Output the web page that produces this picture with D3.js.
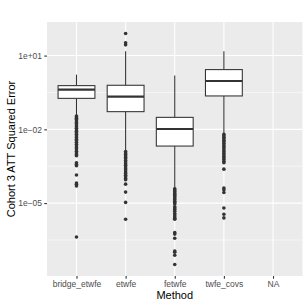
<!DOCTYPE html>
<html>
<head>
<meta charset="utf-8">
<script src="https://cdn.jsdelivr.net/npm/d3@7"></script>
<style>
  body { margin: 0; background: #fff; }
  text { font-family: "Liberation Sans", Arial, Helvetica, sans-serif; }
</style>
</head>
<body>
<svg id="chart" width="307" height="307"></svg>
<script>
// categories on the x axis
var methods = ["bridge_etwfe", "etwfe", "fetwfe", "twfe_covs", "NA"];

// box statistics per method (NA has no data)
var whiskerHigh = [1.68, 15.0, 1.53, 15.0, null];
var q3 = [0.60, 0.62, 0.0307, 2.69, null];
var medians = [0.41, 0.214, 0.0103, 0.93, null];
var q1 = [0.182, 0.0524, 2.09e-3, 0.228, null];
var whiskerLow = [0.037, 1.38e-3, 4.1e-5, 7.1e-3, null];

// outliers
var bridgeOutliers = [3.5e-2, 3.2e-2, 2.8e-2, 2.5e-2, 2.2e-2, 1.9e-2, 1.7e-2, 1.5e-2, 1.26e-2,
  1.1e-2, 9.5e-3, 8.3e-3, 7.2e-3, 6.3e-3, 5.4e-3, 4.7e-3, 4.0e-3, 3.5e-3, 3.0e-3, 2.5e-3,
  2.1e-3, 1.8e-3, 1.6e-3, 1.3e-3, 1.1e-3, 9.5e-4, 8.5e-4, 4.4e-4, 3.8e-4, 3.3e-4, 1.4e-4,
  6.6e-5, 5.8e-5, 5.0e-5, 4.2e-7];
var etwfeOutliers = [78.7, 32.9, 27.3, 1.26e-3, 1.1e-3, 9.5e-4, 8.3e-4, 7.2e-4, 6.3e-4, 5.4e-4,
  4.7e-4, 4.0e-4, 3.5e-4, 2.95e-4, 2.5e-4, 2.2e-4, 1.86e-4, 1.6e-4, 1.35e-4, 1.17e-4, 1.0e-4,
  8.9e-5, 5.9e-5, 2.8e-5, 1.07e-5, 2.2e-6];
var fetwfeOutliers = [3.8e-5, 3.4e-5, 3.0e-5, 2.6e-5, 2.3e-5, 2.0e-5, 1.8e-5, 1.6e-5, 1.4e-5,
  1.2e-5, 1.05e-5, 9.3e-6, 7.1e-6, 6.3e-6, 5.5e-6, 4.7e-6, 3.8e-6, 3.3e-6, 2.8e-6, 2.4e-6,
  2.2e-6, 6.3e-7, 5.5e-7, 3.7e-7, 1.12e-7, 1.0e-7, 7.6e-8, 3.2e-8];
var twfeCovsOutliers = [6.3e-3, 5.5e-3, 4.8e-3, 4.2e-3, 3.6e-3, 3.2e-3, 2.7e-3, 2.3e-3, 2.0e-3,
  1.74e-3, 1.48e-3, 1.26e-3, 1.07e-3, 9.1e-4, 7.9e-4, 6.8e-4, 5.9e-4, 5.0e-4, 4.4e-4, 2.4e-4,
  4.1e-5, 3.5e-5, 2.7e-5, 6.3e-6, 3.5e-6, 2.5e-6];
var outlierLists = [bridgeOutliers, etwfeOutliers, fetwfeOutliers, twfeCovsOutliers, []];

// tick values and labels
var yBreaks = [1e1, 1e-2, 1e-5];
var yLabels = ["1e+01", "1e\u221202", "1e\u221205"];
var yMinorBreaks = [3.16e2, 3.16e-1, 3.16e-4, 3.16e-7];

var svg = d3.select("#chart");
var W = 307, H = 307;
var margin = {top: 22, right: 4.5, bottom: 31, left: 47};
var pLeft = margin.left, pRight = W - margin.right;
var pTop = margin.top, pBottom = H - margin.bottom;

// x scale, ggplot style discrete expansion of 0.6
var x = d3.scalePoint()
    .domain(methods)
    .range([pLeft, pRight])
    .padding(0.6);
var step = x.step();

// y scale, log10 with 5% expansion of the data range
var allVals = [];
outlierLists.forEach(function(l) { allVals = allVals.concat(l); });
whiskerHigh.concat(whiskerLow).forEach(function(v) { if (v != null) allVals.push(v); });
var lmin = Math.log10(d3.min(allVals)), lmax = Math.log10(d3.max(allVals));
var pad = (lmax - lmin) * 0.05;
var y = d3.scaleLog()
    .domain([Math.pow(10, lmin - pad), Math.pow(10, lmax + pad)])
    .range([pBottom, pTop]);

// panel background
svg.append("rect")
   .attr("x", pLeft).attr("y", pTop)
   .attr("width", pRight - pLeft).attr("height", pBottom - pTop)
   .attr("fill", "#EBEBEB");

// minor grid
svg.selectAll(".minor")
   .data(yMinorBreaks.filter(function(d) { return y(d) >= pTop && y(d) <= pBottom; }))
   .enter().append("line")
   .attr("x1", pLeft).attr("x2", pRight)
   .attr("y1", function(d) { return y(d); })
   .attr("y2", function(d) { return y(d); })
   .attr("stroke", "#fff").attr("stroke-width", 0.53);

// major grid
svg.selectAll(".majorY")
   .data(yBreaks)
   .enter().append("line")
   .attr("x1", pLeft).attr("x2", pRight)
   .attr("y1", function(d) { return y(d); })
   .attr("y2", function(d) { return y(d); })
   .attr("stroke", "#fff").attr("stroke-width", 1.07);

svg.selectAll(".majorX")
   .data(methods)
   .enter().append("line")
   .attr("y1", pTop).attr("y2", pBottom)
   .attr("x1", function(d) { return x(d); })
   .attr("x2", function(d) { return x(d); })
   .attr("stroke", "#fff").attr("stroke-width", 1.07);

// boxplots
var boxW = step * 0.75;
var g = svg.append("g");
methods.forEach(function(m, i) {
  if (medians[i] == null) return;
  var cx = x(m);
  // whiskers
  g.append("line")
   .attr("x1", cx).attr("x2", cx)
   .attr("y1", y(whiskerHigh[i])).attr("y2", y(q3[i]))
   .attr("stroke", "#333333").attr("stroke-width", 1.07);
  g.append("line")
   .attr("x1", cx).attr("x2", cx)
   .attr("y1", y(q1[i])).attr("y2", y(whiskerLow[i]))
   .attr("stroke", "#333333").attr("stroke-width", 1.07);
  // box
  g.append("rect")
   .attr("x", cx - boxW / 2).attr("y", y(q3[i]))
   .attr("width", boxW).attr("height", y(q1[i]) - y(q3[i]))
   .attr("fill", "#fff").attr("stroke", "#333333").attr("stroke-width", 1.07);
  // median
  g.append("line")
   .attr("x1", cx - boxW / 2).attr("x2", cx + boxW / 2)
   .attr("y1", y(medians[i])).attr("y2", y(medians[i]))
   .attr("stroke", "#333333").attr("stroke-width", 2.13);
  // outliers
  g.selectAll(".out" + i)
   .data(outlierLists[i])
   .enter().append("circle")
   .attr("cx", cx)
   .attr("cy", function(d) { return y(d); })
   .attr("r", 1.8)
   .attr("fill", "#333333");
});

// y axis
var yAxis = d3.axisLeft(y)
    .tickValues(yBreaks)
    .tickFormat(function(d, i) { return yLabels[i]; })
    .tickSize(2.75)
    .tickPadding(2.2);
var ya = svg.append("g")
   .attr("transform", "translate(" + pLeft + ",0)")
   .call(yAxis);
ya.select(".domain").remove();
ya.selectAll("line").attr("stroke", "#333333").attr("stroke-width", 1.07);
ya.selectAll("text").attr("fill", "#4D4D4D").style("font-size", "8.5px")
  .style("font-family", "'Liberation Sans', Arial, Helvetica, sans-serif");

// x axis
var xAxis = d3.axisBottom(x)
    .tickSize(2.75)
    .tickPadding(2.2);
var xa = svg.append("g")
   .attr("transform", "translate(0," + pBottom + ")")
   .call(xAxis);
xa.select(".domain").remove();
xa.selectAll("line").attr("stroke", "#333333").attr("stroke-width", 1.07);
xa.selectAll("text").attr("fill", "#4D4D4D").style("font-size", "8.5px")
  .style("font-family", "'Liberation Sans', Arial, Helvetica, sans-serif");

// axis titles
svg.append("text")
   .attr("x", (pLeft + pRight) / 2)
   .attr("y", 298.5)
   .attr("text-anchor", "middle")
   .style("font-size", "11px")
   .attr("fill", "#000")
   .text("Method");

svg.append("text")
   .attr("transform", "translate(14.5," + ((pTop + pBottom) / 2) + ") rotate(-90)")
   .attr("text-anchor", "middle")
   .style("font-size", "11px")
   .attr("fill", "#000")
   .text("Cohort 3 ATT Squared Error");
</script>
</body>
</html>
